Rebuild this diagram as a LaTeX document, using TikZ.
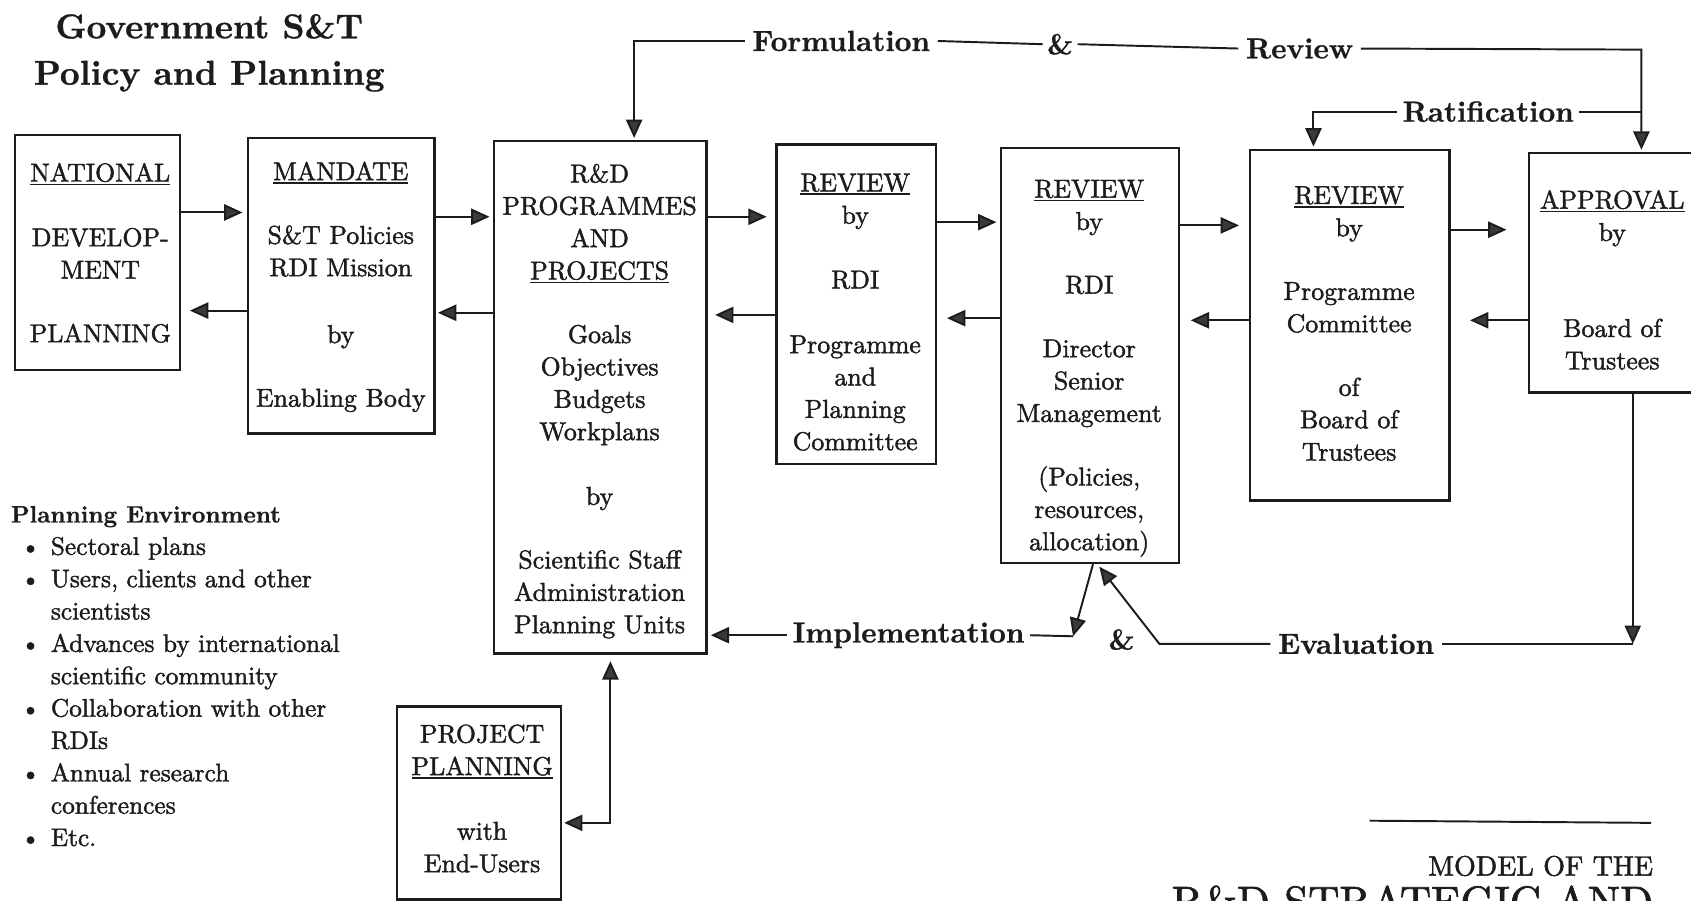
\documentclass[tikz,border=0pt]{standalone}
\usepackage{fontspec}
\setmainfont{lmroman10-regular.otf}[
  BoldFont=lmroman10-bold.otf,
  UprightFeatures={FakeBold=1.6},
  BoldFeatures={FakeBold=0.8}]
\usetikzlibrary{arrows.meta}
\definecolor{ink}{HTML}{1C1C1C}
\definecolor{tipgray}{HTML}{3A3A3A}
% underline with a heavier rule than \underline gives
\newcommand{\undl}[1]{\setbox0\hbox{#1}\leavevmode\rlap{\rule[-3.5pt]{\wd0}{1.6pt}}\box0}
\begin{document}
\begin{tikzpicture}[x=1pt,y=1pt,color=ink,
  box/.style={draw=ink, line width=2.2pt, inner sep=0pt},
  boxtxt/.style={align=center, inner sep=0pt, font=\fontsize{24}{30}\selectfont},
  lbl/.style={inner xsep=7pt, inner ysep=0pt, font=\bfseries\fontsize{27}{32}\selectfont},
  conn/.style={draw=ink, line width=1.8pt},
  arr/.style={conn, -{Triangle[length=17pt,width=15pt,fill=tipgray]}},
  dbl/.style={conn, {Triangle[length=17pt,width=15pt,fill=tipgray]}-{Triangle[length=17pt,width=15pt,fill=tipgray]}},
]
\useasboundingbox (0,0) rectangle (1568,-835);
\clip (0,0) rectangle (1568,-835);

% heading
\node[align=center, inner sep=0pt, font=\bfseries\fontsize{32}{43}\selectfont] (title) at (194,-49) {Government S\&T\\Policy and Planning};

% boxes of the main chain
\node[box, minimum width=153pt, minimum height=218pt] (nat)  at (90.5,-234)  {};
\node[box, minimum width=173pt, minimum height=274pt] (mand) at (316.5,-265) {};
\node[box, minimum width=197pt, minimum height=475pt] (rd)   at (556.5,-368.5) {};
\node[box, minimum width=148pt, minimum height=296pt] (r1)   at (794,-282)   {};
\node[box, minimum width=165pt, minimum height=385pt] (r2)   at (1010.5,-329.5) {};
\node[box, minimum width=185pt, minimum height=325pt] (r3)   at (1251.5,-301.5) {};
\node[box, minimum width=282pt, minimum height=222pt] (app)  at (1559,-253)  {};
\node[box, minimum width=152pt, minimum height=179pt] (proj) at (444,-744.5) {};

% box contents
\node[boxtxt] (natt) at (93,-234.5) {\undl{NATIONAL}\\[30pt]DEVELOP-\\MENT\\[29pt]PLANNING};
\node[boxtxt] (mandt) at (316,-266) {\undl{MANDATE}\\[29pt]S\&T Policies\\RDI Mission\\[32pt]by\\[29pt]Enabling Body};
\node[boxtxt] (rdt) at (556,-372) {R\&D\\PROGRAMMES\\AND\\\undl{PROJECTS}\\[29pt]Goals\\Objectives\\Budgets\\Workplans\\[30pt]by\\[29pt]Scientific Staff\\Administration\\Planning Units};
\node[boxtxt] (r1t) at (793,-289.5) {\undl{REVIEW}\\by\\[30pt]RDI\\[30pt]Programme\\and\\Planning\\Committee};
\node[boxtxt] (r2t) at (1010,-341.5) {\undl{REVIEW}\\by\\[29pt]RDI\\[29pt]Director\\Senior\\Management\\[29pt](Policies,\\resources,\\allocation)};
\node[boxtxt] (r3t) at (1251,-300) {\undl{REVIEW}\\by\\[29pt]Programme\\Committee\\[29pt]of\\Board of\\Trustees};
\node[boxtxt] (appt) at (1495,-259.5) {\undl{APPROVAL}\\by\\[59pt]Board of\\Trustees};
\node[boxtxt] (projt) at (447,-740.5) {PROJECT\\\undl{PLANNING}\\[30pt]with\\End-Users};

% forward and backward links between neighbouring boxes
\foreach \a/\b/\yy/\s in {nat/mand/197/4pt, mand/rd/201/3pt, rd/r1/201/8pt, r1/r2/206/3pt, r2/r3/209/9pt, r3/app/213/20pt}
  \draw[arr, shorten >=\s] (\a.east |- 0,-\yy) -- (\b.west |- 0,-\yy);
\foreach \a/\b/\yy/\s in {mand/nat/288/8pt, rd/mand/290/2pt, r1/rd/292/7pt, r2/r1/295/9pt, r3/r2/297/10pt, app/r3/297/18pt}
  \draw[arr, shorten >=\s] (\a.west |- 0,-\yy) -- (\b.east |- 0,-\yy);

% formulation & review loop
\node[lbl] (form) at (780,-38) {Formulation};
\node[lbl, inner xsep=4pt] (ampt) at (983,-41) {\&};
\node[lbl] (rev) at (1205,-45) {Review};
\coordinate (tl) at (588,-38);
\coordinate (tr) at (1522,-46);
\draw[arr, shorten >=2pt] (form.west) -- (tl) -- (tl |- rd.north);
\draw[conn] (form.east) -- (ampt.west);
\draw[conn] (ampt.east) -- (rev.west);
\draw[arr, shorten >=2pt] (rev.east) -- (tr) -- (tr |- app.north);

% ratification
\node[lbl, inner xsep=5pt] (rat) at (1380,-103.5) {Ratification};
\draw[arr, shorten >=2pt] (rat.west) -| ([xshift=60pt]r3.north west);
\draw[conn] (rat.east) -- (rat.east -| tr);

% implementation & evaluation loop
\node[lbl, inner xsep=5pt] (imp) at (842.5,-589) {Implementation};
\node[lbl] (ampb) at (1040,-593) {\&};
\node[lbl] (eval) at (1257.5,-597) {Evaluation};
\coordinate (impend) at (995,-590);
\coordinate (evalbend) at (1075,-597);
\coordinate (evalend) at (1514,-597);
\draw[arr, shorten >=3pt] (imp.west) -- (imp.west -| rd.east);
\draw[conn] (imp.east) -- (impend);
\draw[arr] ([xshift=3pt]r2.south) -- (impend);
\draw[arr, shorten >=3pt] (eval.west) -- (evalbend) -- ([xshift=7pt]r2.south);
\draw[conn] (eval.east) -- (evalend);
\draw[arr] (evalend |- app.south) -- (evalend);

% project planning link
\draw[dbl, shorten <=6pt, shorten >=2pt] ([xshift=9.5pt]rd.south) |- (proj.east |- 0,-763);

% planning environment list
\node[anchor=north west, align=left, inner sep=0pt, font=\fontsize{23.5}{30}\selectfont] (env) at (10,-469) {%
{\bfseries\fontsize{22}{30}\selectfont Planning Environment}\\
\hspace*{9pt}\makebox[28pt][l]{\textbullet}Sectoral plans\\
\hspace*{9pt}\makebox[28pt][l]{\textbullet}Users, clients and other\\
\hspace*{37pt}scientists\\
\hspace*{9pt}\makebox[28pt][l]{\textbullet}Advances by international\\
\hspace*{37pt}scientific community\\
\hspace*{9pt}\makebox[28pt][l]{\textbullet}Collaboration with other\\
\hspace*{37pt}RDIs\\
\hspace*{9pt}\makebox[28pt][l]{\textbullet}Annual research\\
\hspace*{37pt}conferences\\
\hspace*{9pt}\makebox[28pt][l]{\textbullet}Etc.};

% caption at the lower right
\coordinate (rl) at (1270,-761);
\coordinate (rr) at (1531,-763);
\draw[conn] (rl) -- (rr);
\node[anchor=east, inner sep=0pt, font=\fontsize{26}{30}\selectfont] (model) at (1533,-803) {MODEL OF THE};
\node[anchor=north east, inner sep=0pt, font=\fontsize{40}{44}\selectfont] (strat) at (1533,-821) {R\&D STRATEGIC AND};
\end{tikzpicture}
\end{document}
